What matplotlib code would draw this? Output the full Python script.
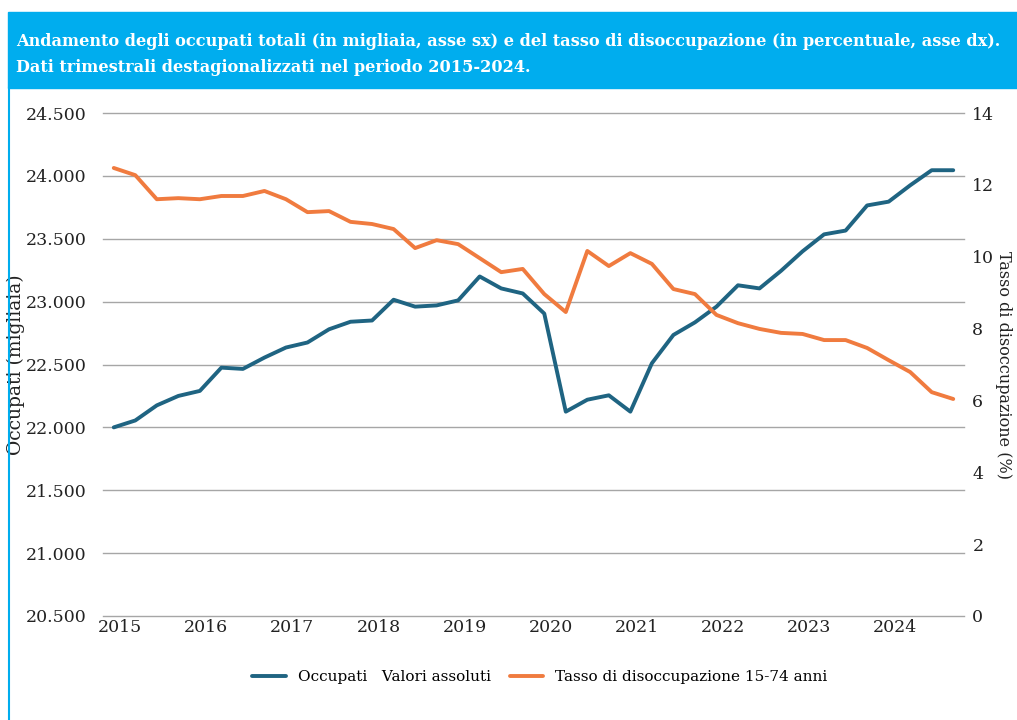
import matplotlib
matplotlib.use("Agg")
from matplotlib import pyplot as plt
from matplotlib.patches import Rectangle
from matplotlib.lines import Line2D

# quarterly data 2015Q1 - 2024Q4
occupati = [22000, 22055, 22175, 22250, 22290, 22475, 22465, 22555, 22635, 22675,
            22780, 22840, 22850, 23015, 22960, 22970, 23010, 23200, 23105, 23065,
            22905, 22125, 22220, 22255, 22125, 22510, 22735, 22835, 22960, 23130,
            23105, 23245, 23400, 23535, 23565, 23765, 23795, 23925, 24045, 24045]
tasso = [12.47, 12.27, 11.6, 11.63, 11.6, 11.69, 11.69, 11.83, 11.6, 11.24,
         11.27, 10.97, 10.91, 10.77, 10.24, 10.46, 10.35, 9.96, 9.57, 9.66,
         8.96, 8.46, 10.16, 9.74, 10.1, 9.8, 9.1, 8.96, 8.38, 8.15,
         7.99, 7.88, 7.85, 7.68, 7.68, 7.46, 7.12, 6.79, 6.23, 6.04]
anni = ['2015', '2016', '2017', '2018', '2019', '2020', '2021', '2022', '2023', '2024']
left_ticks = [20500, 21000, 21500, 22000, 22500, 23000, 23500, 24000, 24500]
right_ticks = [0, 2, 4, 6, 8, 10, 12, 14]

BLU = '#1f6482'
ARANCIO = '#f07b3f'
CIANO = '#00adee'
FONT = 'DejaVu Serif'

fig = plt.figure(figsize=(10.17, 7.2), dpi=100)

# title banner + left border
fig.patches.append(Rectangle((8 / 1017, 1 - 88 / 720), 1, 76 / 720, transform=fig.transFigure,
                             color=CIANO, zorder=0))
fig.lines.append(Line2D([9 / 1017, 9 / 1017], [0, 1 - 88 / 720], transform=fig.transFigure,
                        color=CIANO, lw=1.5))
fig.text(16 / 1017, 1 - 42 / 720,
         'Andamento degli occupati totali (in migliaia, asse sx) e del tasso di disoccupazione (in percentuale, asse dx).',
         color='white', fontsize=11.6, fontweight='bold', family=FONT, va='center', ha='left')
fig.text(16 / 1017, 1 - 67 / 720, 'Dati trimestrali destagionalizzati nel periodo 2015-2024.',
         color='white', fontsize=11.6, fontweight='bold', family=FONT, va='center', ha='left')

ax = fig.add_axes([103 / 1017, 104 / 720, 861 / 1017, 503 / 720])
ax2 = ax.twinx()

x = list(range(len(occupati)))
l1, = ax.plot(x, occupati, color=BLU, lw=2.8, solid_capstyle='round', solid_joinstyle='round')
l2, = ax2.plot(x, tasso, color=ARANCIO, lw=2.8, solid_capstyle='round', solid_joinstyle='round')

ax.set_ylim(20500, 24500)
ax2.set_ylim(0, 14)
ax.set_xlim(-0.5, 39.5)
ax.set_yticks(left_ticks)
ax.set_yticklabels([f'{v:,}'.replace(',', '.') for v in left_ticks], family=FONT, fontsize=12.5, color='#222222')
ax2.set_yticks(right_ticks)
ax2.set_yticklabels([str(v) for v in right_ticks], family=FONT, fontsize=12.5, color='#222222')
ax.set_xticks([4 * i + 0.3 for i in range(len(anni))])
ax.set_xticklabels(anni, family=FONT, fontsize=12.5, color='#222222')

ax.grid(axis='y', color='#a6a6a6', lw=1)
for gl in ax.get_ygridlines():
    gl.set_clip_on(False)
ax.set_axisbelow(True)
for a in (ax, ax2):
    for s in a.spines.values():
        s.set_visible(False)
    a.tick_params(length=0)
ax.tick_params(axis='x', pad=2)
ax.tick_params(axis='y', pad=12)
ax2.tick_params(axis='y', pad=6)

ax.set_ylabel('Occupati (migliaia)', family=FONT, fontsize=13.5, color='#222222')
ax.yaxis.set_label_coords(-0.091, 0.5)
ax2.set_ylabel('Tasso di disoccupazione (%)', family=FONT, fontsize=11.5, color='#222222',
               rotation=-90, va='center')
ax2.yaxis.set_label_coords(1.046, 0.5)

fig.legend([l1, l2], ['Occupati   Valori assoluti', 'Tasso di disoccupazione 15-74 anni'],
           loc='center', bbox_to_anchor=(540 / 1017, 1 - 677 / 720), ncol=2, frameon=False,
           prop={'family': FONT, 'size': 11}, handlelength=2.2, columnspacing=1.2)

fig.savefig('out.png', dpi=100)
